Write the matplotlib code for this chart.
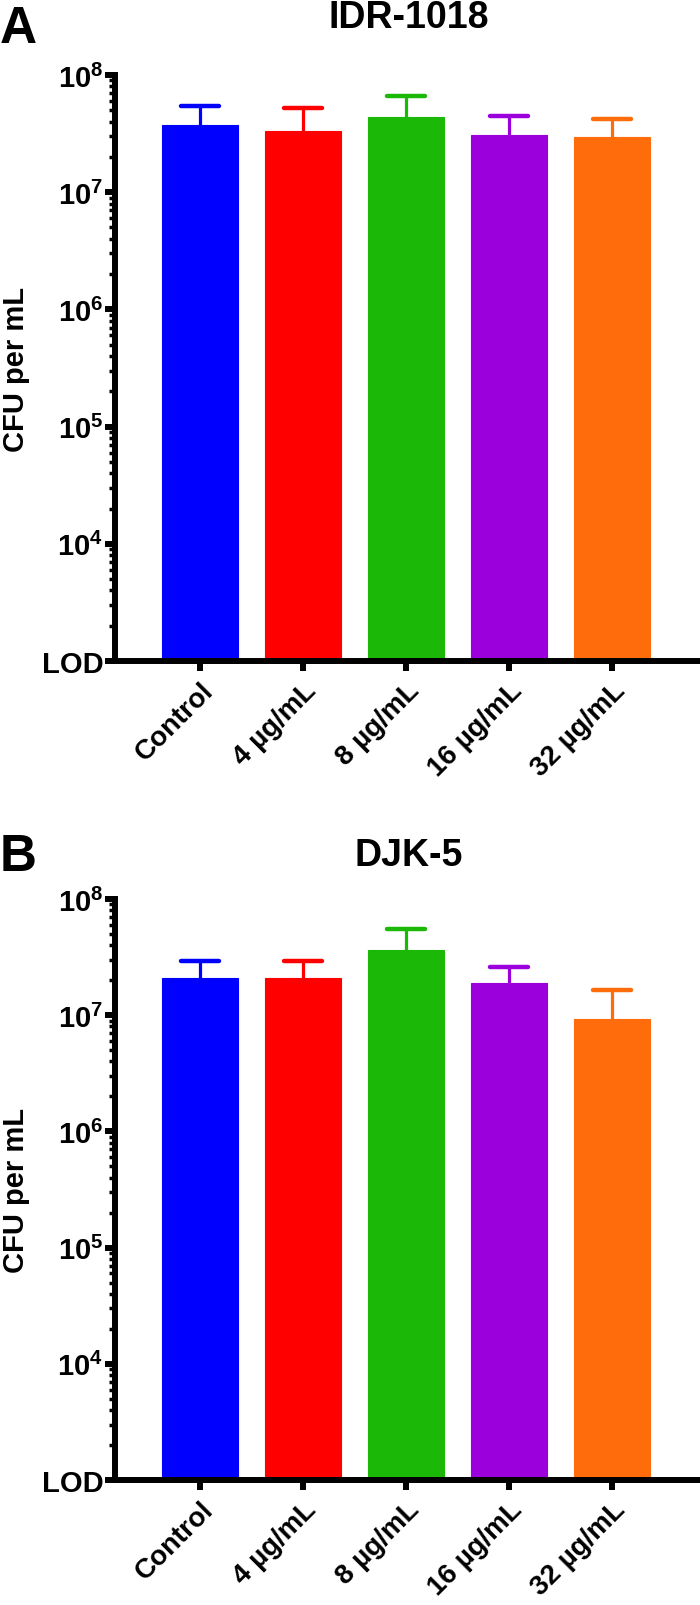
import matplotlib
matplotlib.use("Agg")
import matplotlib.pyplot as plt
import numpy as np
from matplotlib.ticker import FixedLocator, LogLocator, NullFormatter

plt.rcParams['font.family'] = ['Liberation Sans', 'DejaVu Sans']
plt.rcParams['font.weight'] = 'bold'
plt.rcParams['mathtext.fontset'] = 'custom'
plt.rcParams['mathtext.rm'] = 'Liberation Sans:bold'
plt.rcParams['mathtext.bf'] = 'Liberation Sans:bold'
plt.rcParams['mathtext.it'] = 'Liberation Sans:bold'

# ---- data ----
categories = ["Control", "4 µg/mL", "8 µg/mL", "16 µg/mL", "32 µg/mL"]
colors = ["#0000FF", "#FF0000", "#1CB808", "#9B00DC", "#FF6C0C"]

idr_mean = [3.74e7, 3.32e7, 4.38e7, 3.07e7, 2.95e7]
idr_upper = [5.43e7, 5.22e7, 6.60e7, 4.46e7, 4.20e7]

djk_mean = [2.09e7, 2.09e7, 3.64e7, 1.89e7, 9.27e6]
djk_upper = [2.93e7, 2.93e7, 5.52e7, 2.60e7, 1.65e7]

ytick_vals = [1e3, 1e4, 1e5, 1e6, 1e7, 1e8]
ytick_labels = ["LOD", r"$\mathbf{10^{4}}$", r"$\mathbf{10^{5}}$",
                r"$\mathbf{10^{6}}$", r"$\mathbf{10^{7}}$", r"$\mathbf{10^{8}}$"]

panels = [("A", "IDR-1018", idr_mean, idr_upper),
          ("B", "DJK-5", djk_mean, djk_upper)]

W, H = 700, 1606
fig = plt.figure(figsize=(W / 100, H / 100), dpi=100)

# pixel layout (top, bottom) of each axes
ax_rows = [(76, 662), (900, 1481)]
title_y = [18, 856]
letter_y = [43, 871]
ax_left, ax_right = 115, 698

x = np.arange(len(categories))
cap_half = 0.18
for (letter, title, mean, upper), (top, bot), ty, ly in zip(panels, ax_rows, title_y, letter_y):
    ax = fig.add_axes([ax_left / W, 1 - bot / H, (ax_right - ax_left) / W, (bot - top) / H])
    ax.set_yscale('log')
    ax.bar(x, mean, width=0.73, color=colors, edgecolor=colors, linewidth=0.8, zorder=2)
    ax.vlines(x, mean, upper, colors=colors, linewidth=2.3, zorder=1)
    ax.hlines(upper, x - cap_half, x + cap_half, colors=colors, linewidth=3.2,
              capstyle='round', zorder=1)
    ax.set_ylim(1e3, 1e8)
    ax.set_xlim(-0.825, 4.835)
    ax.yaxis.set_major_locator(FixedLocator(ytick_vals))
    ax.set_yticklabels(ytick_labels)
    ax.yaxis.set_minor_locator(LogLocator(base=10, subs=np.arange(2, 10)))
    ax.yaxis.set_minor_formatter(NullFormatter())
    ax.set_xticks(x)
    ax.set_xticklabels(categories, rotation=45, ha='right', rotation_mode='anchor')
    for s in ['top', 'right']:
        ax.spines[s].set_visible(False)
    for s in ['left', 'bottom']:
        ax.spines[s].set_linewidth(4.3)
    ax.tick_params(axis='y', which='major', length=7.5, width=4.3, labelsize=21, pad=1)
    ax.tick_params(axis='y', which='minor', length=4.5, width=2.5)
    ax.tick_params(axis='x', which='major', length=7.5, width=4.3, labelsize=20, pad=4)
    for lab in ax.get_xticklabels() + ax.get_yticklabels():
        lab.set_fontweight('bold')
    fig.text(0.0, 1 - ly / H, letter, fontsize=37, fontweight='bold', ha='left', va='baseline')
    fig.text(409 / W, 1 - ty / H, title, fontsize=27, fontweight='bold',
             ha='center', va='center')
    fig.text(16 / W, 1 - (top + bot) / 2 / H, "CFU per mL", fontsize=21,
             fontweight='bold', rotation=90, ha='center', va='center')

fig.savefig("out.png", dpi=100)
